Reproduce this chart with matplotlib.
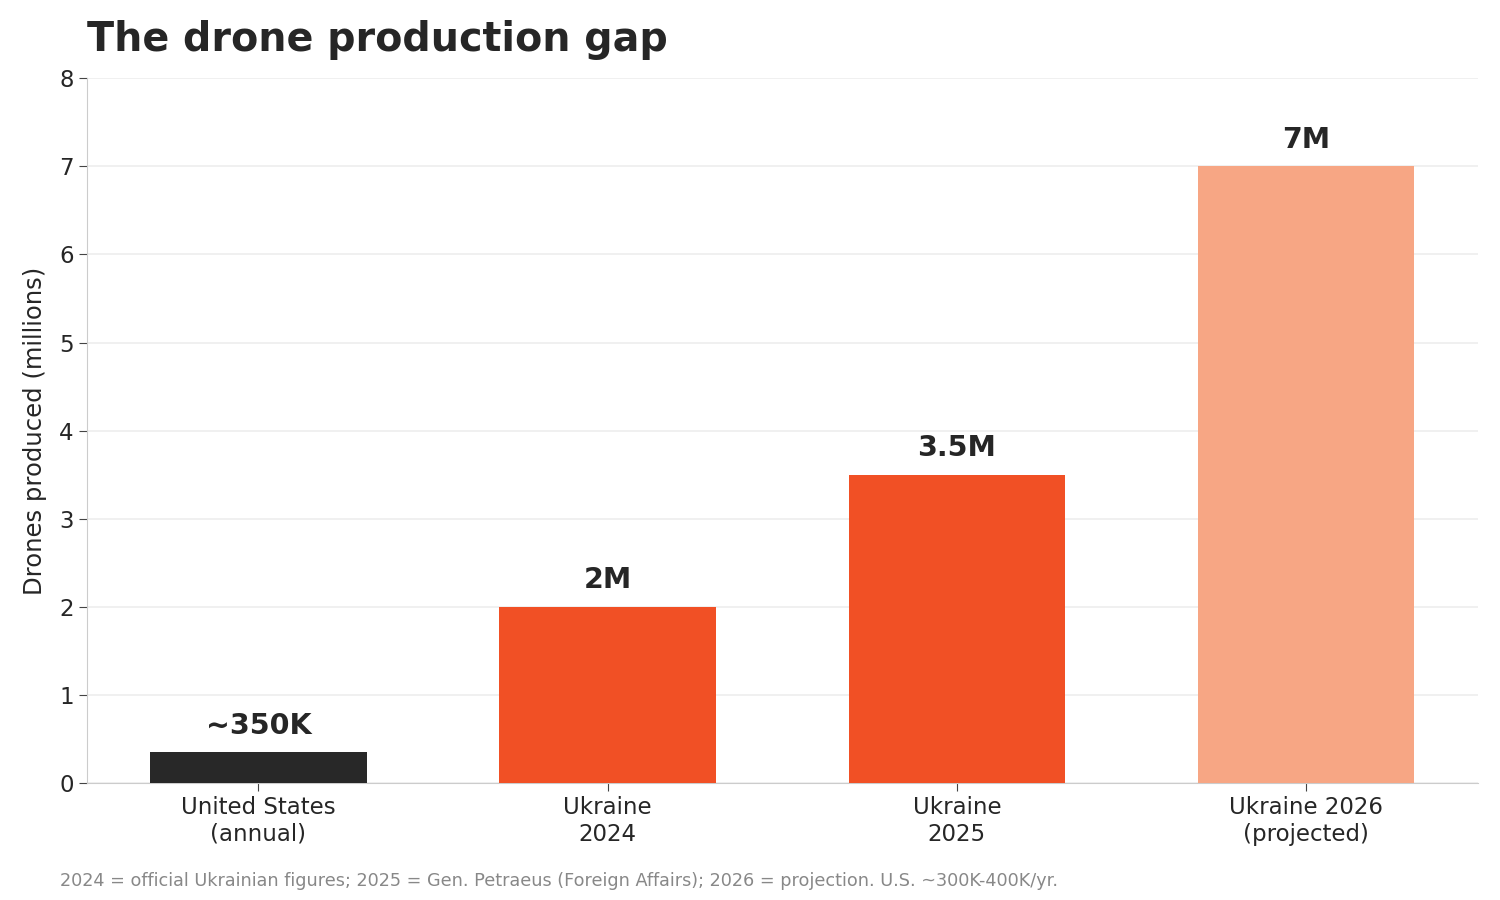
import matplotlib.pyplot as plt

plt.rcParams['font.family'] = ['DejaVu Sans']

categories = ["United States\n(annual)", "Ukraine\n2024", "Ukraine\n2025", "Ukraine 2026\n(projected)"]
values = [0.35, 2.0, 3.5, 7.0]
value_labels = ["~350K", "2M", "3.5M", "7M"]
colors = ["#282828", "#F15025", "#F15025", "#F7A684"]

fig, ax = plt.subplots(figsize=(15, 9), dpi=100)
fig.subplots_adjust(left=0.058, right=0.985, top=0.913, bottom=0.13)

x = range(len(categories))
bars = ax.bar(x, values, width=0.62, color=colors, zorder=3)
for b, lab in zip(bars, value_labels):
    ax.text(b.get_x() + b.get_width() / 2, b.get_height() + 0.14, lab,
            ha="center", va="bottom", fontsize=20.5, fontweight="bold", color="#262626")

ax.set_xticks(list(x))
ax.set_xticklabels(categories, fontsize=16.5, color="#262626")
ax.set_ylim(0, 8)
ax.set_yticks(range(0, 9))
ax.tick_params(axis="y", labelsize=16.5, labelcolor="#262626", color="#444444", length=6)
ax.tick_params(axis="x", color="#444444", length=6)
ax.set_ylabel("Drones produced (millions)", fontsize=17.5, color="#262626", labelpad=9)
ax.grid(axis="y", color="#EEEEEE", linewidth=1.2, zorder=0)
for s in ["top", "right"]:
    ax.spines[s].set_visible(False)
for s in ["left", "bottom"]:
    ax.spines[s].set_color("#CCCCCC")

ax.set_title("The drone production gap", loc="left", fontsize=28.5, fontweight="bold",
             color="#262626", pad=20)
fig.text(0.04, 0.016, "2024 = official Ukrainian figures; 2025 = Gen. Petraeus (Foreign Affairs); "
         "2026 = projection. U.S. ~300K-400K/yr.", fontsize=12.7, color="#888888")

fig.savefig("out.png")
